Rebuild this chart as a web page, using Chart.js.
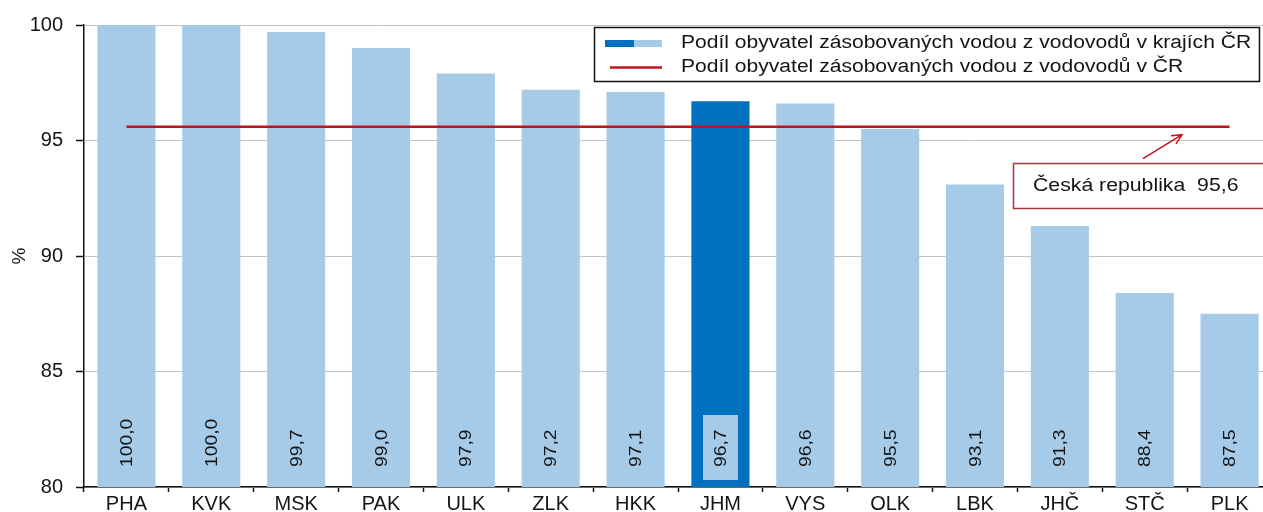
<!DOCTYPE html>
<html>
<head>
<meta charset="utf-8">
<script src="https://cdn.jsdelivr.net/npm/chart.js@4/dist/chart.umd.min.js"></script>
<style>
  html, body { margin: 0; padding: 0; background: #fff; overflow: hidden; }
  #wrap { width: 1272px; height: 512px; }
</style>
</head>
<body>
<div id="wrap"><canvas id="c" width="1272" height="512"></canvas></div>
<script>
// ---- data ----
const categories = ['PHA','KVK','MSK','PAK','ULK','ZLK','HKK','JHM','VYS','OLK','LBK','JHČ','STČ','PLK'];
const regionValues = [100.0, 100.0, 99.7, 99.0, 97.9, 97.2, 97.1, 96.7, 96.6, 95.5, 93.1, 91.3, 88.4, 87.5];
const czValue = 95.6;
const highlightRegion = 'JHM';
const yTicks = [80, 85, 90, 95, 100];
const legendLabels = [
  'Podíl obyvatel zásobovaných vodou z vodovodů v krajích ČR',
  'Podíl obyvatel zásobovaných vodou z vodovodů v ČR'
];
const calloutLabel = 'Česká republika  ' + czValue.toFixed(1).replace('.', ',');

// ---- styles ----
const LIGHT = '#A6CBE8';
const DARK = '#0070BF';
const RED = '#C4121C';
const TEXT = '#141414';
const FONT = '"Liberation Sans", Arial, sans-serif';

const fmt = v => v.toFixed(1).replace('.', ',');
const czLine = categories.map(() => czValue);

const overlay = {
  id: 'overlay',
  afterDatasetsDraw(chart) {
    const ctx = chart.ctx;
    const meta = chart.getDatasetMeta(0);
    ctx.save();
    meta.data.forEach((bar, i) => {
      const cx = bar.x;
      const baseY = 467;
      if (categories[i] === highlightRegion) {
        ctx.fillStyle = LIGHT;
        ctx.fillRect(Math.round(cx - 17.5), 415, 35, 65);
      }
      ctx.save();
      ctx.translate(cx, baseY);
      ctx.rotate(-Math.PI / 2);
      ctx.scale(1.17, 1);
      ctx.font = '16.5px ' + FONT;
      ctx.fillStyle = TEXT;
      ctx.textAlign = 'left';
      ctx.textBaseline = 'middle';
      ctx.fillText(fmt(regionValues[i]), 0, 1);
      ctx.restore();
    });
    ctx.restore();
  },
  afterDraw(chart) {
    const ctx = chart.ctx;
    ctx.save();
    // legend box
    ctx.fillStyle = '#fff';
    ctx.fillRect(594, 27, 665, 54);
    ctx.strokeStyle = '#111';
    ctx.lineWidth = 1.5;
    ctx.strokeRect(594.5, 27.5, 665, 54);
    // symbol 1
    ctx.fillStyle = DARK;
    ctx.fillRect(605, 40, 29, 7);
    ctx.fillStyle = LIGHT;
    ctx.fillRect(634, 40, 28, 7);
    // symbol 2
    ctx.strokeStyle = RED;
    ctx.lineWidth = 2.5;
    ctx.beginPath();
    ctx.moveTo(610, 67.5);
    ctx.lineTo(662, 67.5);
    ctx.stroke();
    ctx.fillStyle = TEXT;
    ctx.font = '18px ' + FONT;
    ctx.textBaseline = 'middle';
    ctx.textAlign = 'left';
    [43, 67].forEach((y, k) => {
      ctx.save();
      ctx.translate(681, y);
      ctx.scale(1.17, 1);
      ctx.fillText(legendLabels[k], 0, 0);
      ctx.restore();
    });

    // callout arrow
    const yLine = chart.scales.y.getPixelForValue(czValue);
    const tip = { x: 1182, y: yLine + 8 };
    const tail = { x: 1143, y: yLine + 32 };
    ctx.strokeStyle = RED;
    ctx.lineWidth = 1.5;
    ctx.beginPath();
    ctx.moveTo(tail.x, tail.y);
    ctx.lineTo(tip.x, tip.y);
    const ang = Math.atan2(tip.y - tail.y, tip.x - tail.x);
    const L = 11;
    ctx.moveTo(tip.x - L * Math.cos(ang - 0.45), tip.y - L * Math.sin(ang - 0.45));
    ctx.lineTo(tip.x, tip.y);
    ctx.lineTo(tip.x - L * Math.cos(ang + 0.45), tip.y - L * Math.sin(ang + 0.45));
    ctx.stroke();
    // callout box
    ctx.fillStyle = '#fff';
    ctx.fillRect(1013, 163, 300, 45);
    ctx.strokeStyle = '#A8363A';
    ctx.lineWidth = 1.5;
    ctx.strokeRect(1013.5, 163.5, 300, 45);
    ctx.fillStyle = TEXT;
    ctx.font = '18px ' + FONT;
    ctx.textBaseline = 'middle';
    ctx.save();
    ctx.translate(1033, 186);
    ctx.scale(1.18, 1);
    ctx.fillText(calloutLabel, 0, 0);
    ctx.restore();
    ctx.restore();
  }
};

new Chart(document.getElementById('c'), {
  data: {
    labels: categories,
    datasets: [
      {
        type: 'bar',
        label: legendLabels[0],
        data: regionValues,
        backgroundColor: categories.map(c => c === highlightRegion ? DARK : LIGHT),
        borderWidth: 0,
        barPercentage: 0.685,
        categoryPercentage: 1.0,
        order: 2
      },
      {
        type: 'line',
        label: legendLabels[1],
        data: czLine,
        borderColor: RED,
        borderWidth: 2.5,
        pointRadius: 0,
        fill: false,
        order: 1
      }
    ]
  },
  options: {
    responsive: false,
    animation: false,
    devicePixelRatio: 1,
    layout: { padding: { top: 24, left: 0, right: 0, bottom: 0 } },
    plugins: {
      legend: { display: false },
      tooltip: { enabled: false }
    },
    scales: {
      x: {
        offset: true,
        grid: {
          offset: true,
          drawOnChartArea: false,
          drawTicks: true,
          tickLength: 5,
          tickColor: '#111',
          tickWidth: 1.5
        },
        border: { color: '#111', width: 1.5 },
        ticks: {
          color: TEXT,
          font: { family: FONT, size: 20 },
          padding: 0,
          maxRotation: 0,
          autoSkip: false
        },
        afterFit(scale) { scale.height = 24; }
      },
      y: {
        min: 80,
        max: 100,
        afterBuildTicks(scale) { scale.ticks = yTicks.map(v => ({ value: v })); },
        grid: {
          color: '#C4C4C4',
          lineWidth: 1,
          tickLength: 8,
          tickColor: '#111',
          tickWidth: 1.5
        },
        border: { color: '#111', width: 1.5 },
        ticks: {
          color: TEXT,
          font: { family: FONT, size: 20 },
          padding: 13,
          callback: v => String(v)
        },
        title: {
          display: true,
          text: '%',
          color: TEXT,
          font: { family: FONT, size: 19 },
          padding: { top: 8, bottom: 0 }
        },
        afterFit(scale) { scale.width = 84; }
      }
    }
  },
  plugins: [overlay]
});
</script>
</body>
</html>
